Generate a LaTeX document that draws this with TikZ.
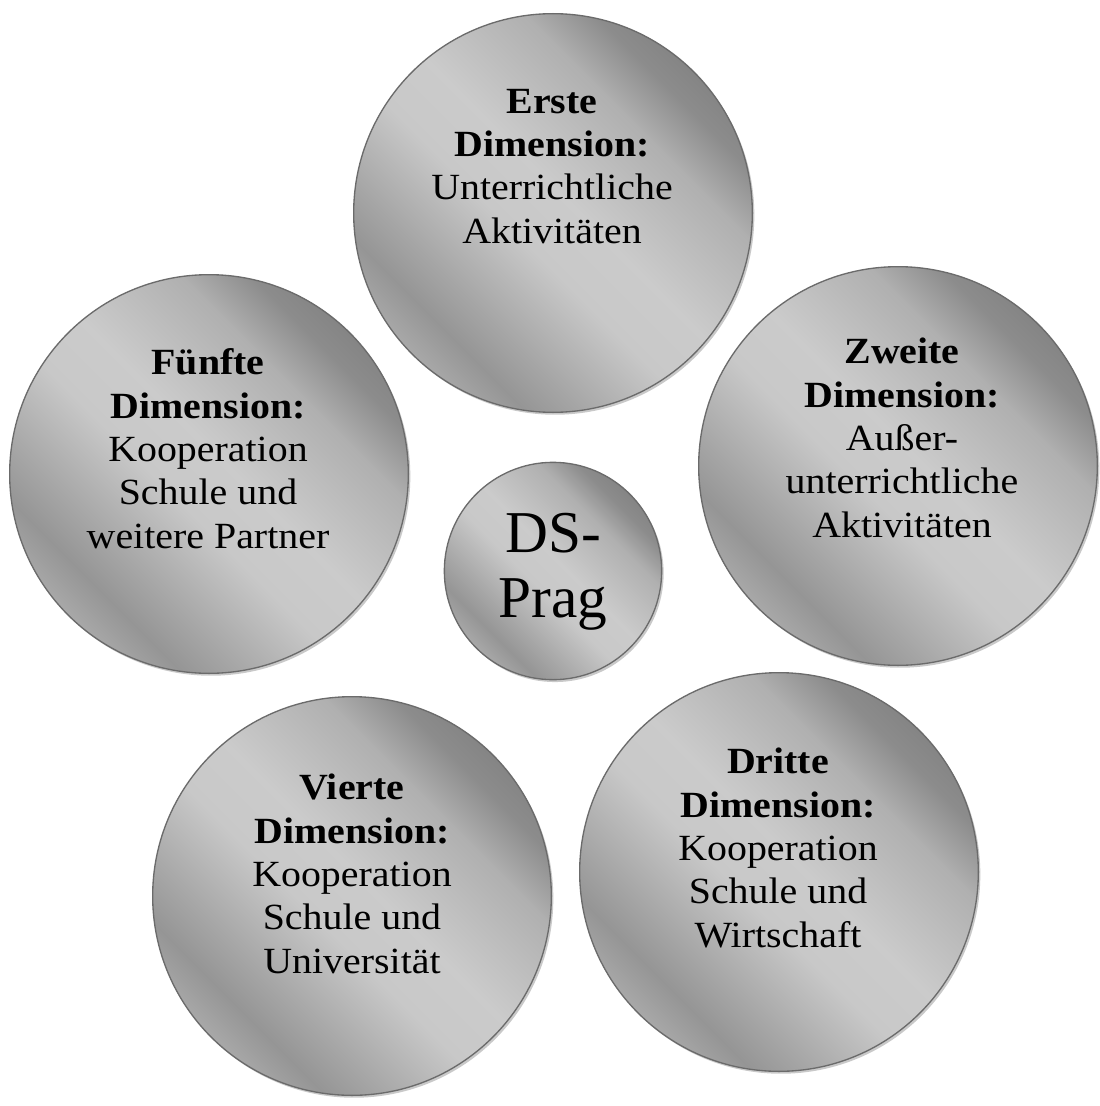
\documentclass[tikz,border=0pt]{standalone}
\usepackage{fontspec}
\setmainfont{Liberation Serif}
\newfontfamily\dimfont[FakeStretch=1.08]{Liberation Serif}
\usetikzlibrary{shadows}

% brushed-metal fill for the discs: grey level is a piecewise-linear
% function of u = (x+y-100)/35.355, i.e. bands at exactly 45 degrees,
% light through the middle, a dark stripe low left, dark top right
\pgfdeclarefunctionalshading{metal}{\pgfpoint{0bp}{0bp}}{\pgfpoint{100bp}{100bp}}{}{
  add 100 sub 35.355 div
  dup -0.8 lt { -0.375 mul 0.285 add }
  { dup -0.6 lt { 0.325 mul 0.845 add }
  { dup -0.2 lt { 0.3375 mul 0.8525 add }
  { dup 0.1 lt { 0.0333 mul 0.7917 add }
  { dup 0.6 lt { -0.21 mul 0.816 add }
  { dup 0.85 lt { -0.56 mul 1.026 add }
  { -0.2 mul 0.72 add } ifelse } ifelse } ifelse } ifelse } ifelse } ifelse
  dup dup
}

\tikzset{
  disc/.style={circle, draw=black!58, line width=1pt, shading=metal,
    inner sep=0pt, outer sep=0pt,
    drop shadow={shadow xshift=1.5pt, shadow yshift=-1.8pt,
      fill=black!35, opacity=0.6}},
  bigdisc/.style={disc, minimum size=299pt},
  hubdisc/.style={disc, minimum size=163pt},
  % multi-line labels: the base anchor sits on the last line
  dimtext/.style={align=center, anchor=base, inner sep=0pt,
    font=\dimfont\fontsize{27.7}{32.5}\selectfont},
  hubtext/.style={align=center, anchor=base, inner sep=0pt,
    font=\fontsize{44.5}{48.7}\selectfont},
}

\begin{document}
\begin{tikzpicture}[x=0.75pt, y=-0.75pt]
  \useasboundingbox (0,0) rectangle (1099,1106);
  \fill[white] (0,0) rectangle (1099,1106);

  % the five dimensions around the hub
  \node[bigdisc] (erste)   at (553,213) {};
  \node[bigdisc] (zweite)  at (898,466) {};
  \node[bigdisc] (dritte)  at (779,872) {};
  \node[bigdisc] (vierte)  at (352,896) {};
  \node[bigdisc] (fuenfte) at (209,474) {};
  \node[hubdisc] (hub)     at (553,571) {};

  \node[dimtext] (erste-t) at (552,243)
    {\textbf{Erste}\\\textbf{Dimension:}\\Unterrichtliche\\Aktivitäten};
  \node[dimtext] (zweite-t) at (902,537)
    {\textbf{Zweite}\\\textbf{Dimension:}\\Außer-\\unterrichtliche\\Aktivitäten};
  \node[dimtext] (dritte-t) at (778,947)
    {\textbf{Dritte}\\\textbf{Dimension:}\\Kooperation\\Schule und\\Wirtschaft};
  \node[dimtext] (vierte-t) at (352,973)
    {\textbf{Vierte}\\\textbf{Dimension:}\\Kooperation\\Schule und\\Universität};
  \node[dimtext] (fuenfte-t) at (208,548)
    {\textbf{Fünfte}\\\textbf{Dimension:}\\Kooperation\\Schule und\\weitere Partner};
  \node[hubtext] (hub-t) at (553,617) {DS-\\Prag};
\end{tikzpicture}
\end{document}
